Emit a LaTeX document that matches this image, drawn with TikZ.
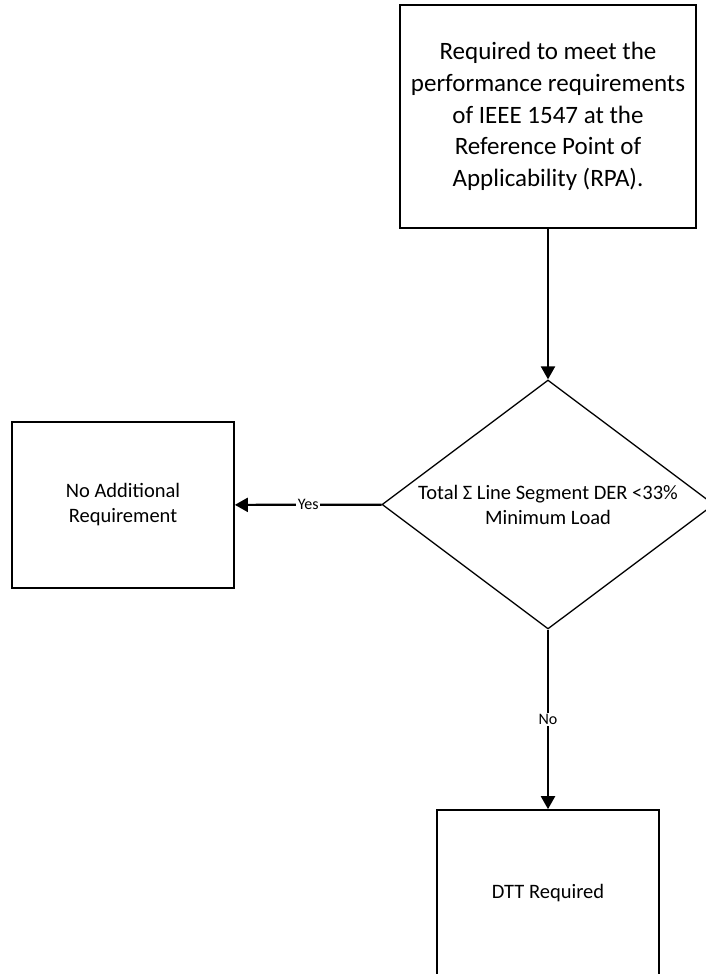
\documentclass[tikz,border=0pt]{standalone}
\usepackage{fontspec}
\setmainfont{Carlito}
\usetikzlibrary{arrows.meta, positioning, shapes.geometric}

\begin{document}
\begin{tikzpicture}[x=1pt,y=-1pt]
\tikzset{
  stepbox/.style={draw, line width=1.7pt, minimum width=222pt, minimum height=166pt,
    inner sep=0pt, align=center, font=\fontsize{20.5}{25}\selectfont},
  decision/.style={draw, diamond, aspect=1.3, line width=1.3pt, inner sep=0pt,
    minimum width=332pt, minimum height=249pt,
    align=center, font=\fontsize{20.5}{25}\selectfont},
  flow/.style={line width=2.2pt, -{Triangle[length=13pt,width=14pt]}},
  lbl/.style={fill=white, inner sep=1.5pt, font=\fontsize{16}{19}\selectfont}
}
\useasboundingbox (0,0) rectangle (705,974);

% boxes
\node[stepbox, minimum width=296pt, minimum height=223pt,
  font=\fontsize{25}{31.6}\selectfont] (rpa) at (548,116.5)
  {Required to meet the\\performance requirements\\of IEEE 1547 at the\\Reference Point of\\Applicability (RPA).};
\node[decision] (seg) at (548,504.5) {Total Σ Line Segment DER <33\%\\Minimum Load};
\node[stepbox] (noreq) at (123,505) {No Additional\\Requirement};
\node[stepbox] (dtt) at (548,893) {DTT Required};

% connectors
\draw[flow] (rpa) -- (seg);
\draw[flow] (seg) -- node[lbl] {Yes} (noreq);
\draw[flow] (seg) -- node[lbl] {No} (dtt);
\end{tikzpicture}
\end{document}
